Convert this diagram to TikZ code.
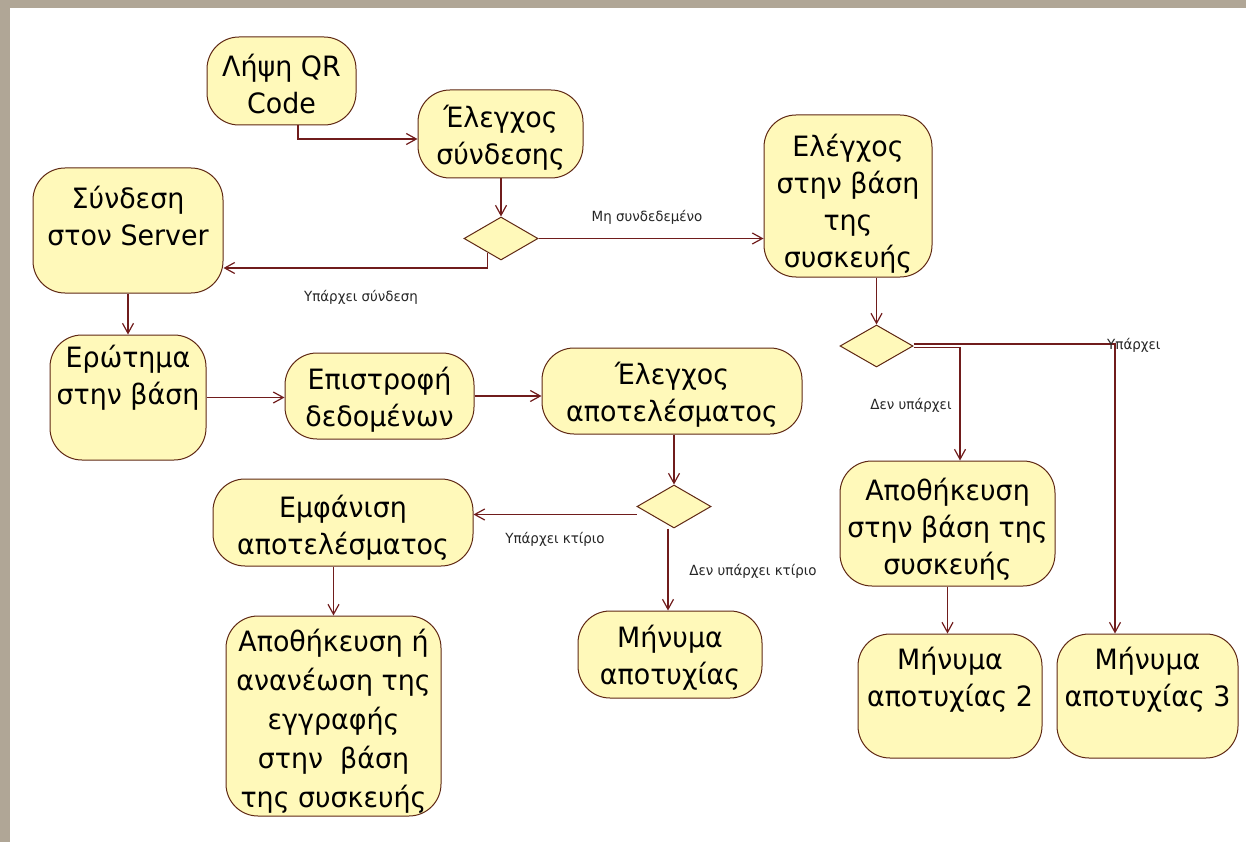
\documentclass[tikz,border=0pt]{standalone}
\usepackage{fontspec}
\setmainfont{DejaVu Sans}[FakeStretch=0.96]
\usetikzlibrary{arrows.meta,shapes.geometric,calc}
\definecolor{stone}{RGB}{176,166,150}
\definecolor{nodefill}{RGB}{255,249,186}
\definecolor{edgecol}{RGB}{112,28,28}
\definecolor{bordercol}{RGB}{95,40,20}
\tikzset{
  box/.style={draw=bordercol, fill=nodefill, rounded corners=32pt, line width=1pt, inner sep=0pt},
  dec/.style={diamond, aspect=1.7, draw=bordercol, fill=nodefill, line width=1pt, inner sep=0pt},
  txt/.style={inner sep=0pt, align=center, font=\fontsize{28pt}{37pt}\selectfont},
  lbl/.style={inner sep=0pt, font=\fontsize{14pt}{16pt}\selectfont, text=black!85},
  arr/.style={draw=edgecol, line width=1.2pt, -{Straight Barb[length=10pt,width=11pt]}}
}
\begin{document}
\begin{tikzpicture}[x=1pt,y=-1pt]
\useasboundingbox (0,0) rectangle (1246,842);
\fill[stone] (0,0) rectangle (1246,842);
\fill[white] (10,8) rectangle (1246,842);

% activity nodes
\node[box, minimum width=149pt, minimum height=88pt] (qr) at (281.5,81) {};
\node[txt] (tqr) at (281.5,84) {Λήψη QR\\Code};
\node[box, minimum width=165pt, minimum height=88pt] (conn) at (500.5,134) {};
\node[txt] (tconn) at (500.5,138) {Έλεγχος\\σύνδεσης};
\node[box, minimum width=168pt, minimum height=162pt] (dbchk) at (848,196) {};
\node[txt] (tdbchk) at (848,204) {Ελέγχος\\στην βάση\\της\\συσκευής};
\node[box, minimum width=190pt, minimum height=125pt] (server) at (128,230.5) {};
\node[txt] (tserver) at (128,216) {Σύνδεση\\στον Server};
\node[box, minimum width=156pt, minimum height=125pt] (query) at (128,397.5) {};
\node[txt] (tquery) at (128,378) {Ερώτημα\\στην βάση};
\node[box, minimum width=189pt, minimum height=86pt] (ret) at (379.5,396) {};
\node[txt] (tret) at (379.5,400) {Επιστροφή\\δεδομένων};
\node[box, minimum width=260pt, minimum height=86pt] (res) at (672,391) {};
\node[txt] (tres) at (672,395) {Έλεγχος\\αποτελέσματος};
\node[box, minimum width=260pt, minimum height=87pt] (show) at (343,522.5) {};
\node[txt] (tshow) at (343,528) {Εμφάνιση\\αποτελέσματος};
\node[box, minimum width=215pt, minimum height=200pt] (save1) at (333.5,716) {};
\node[txt, font=\fontsize{28pt}{39pt}\selectfont] (tsave1) at (333.5,721) {Αποθήκευση ή\\ανανέωση της\\εγγραφής\\στην\ \ βάση\\της συσκευής};
\node[box, minimum width=184pt, minimum height=87pt] (fail1) at (670,654.5) {};
\node[txt] (tfail1) at (670,658) {Μήνυμα\\αποτυχίας};
\node[box, minimum width=215pt, minimum height=125pt] (save2) at (947.5,523.5) {};
\node[txt] (tsave2) at (947.5,529.5) {Αποθήκευση\\στην βάση της\\συσκευής};
\node[box, minimum width=184pt, minimum height=124pt] (fail2) at (950,696) {};
\node[txt] (tfail2) at (950,680) {Μήνυμα\\αποτυχίας 2};
\node[box, minimum width=181pt, minimum height=124pt] (fail3) at (1147.5,696) {};
\node[txt] (tfail3) at (1147.5,680) {Μήνυμα\\αποτυχίας 3};

% decisions
\node[dec, minimum width=74pt, minimum height=43pt] (d1) at (501,238.5) {};
\node[dec, minimum width=74pt, minimum height=43pt] (d2) at (674,506.5) {};
\node[dec, minimum width=73pt, minimum height=42pt] (d3) at (876.5,346) {};

% connectors
\draw[arr] ([xshift=16.5pt]qr.south) |- ([yshift=-5pt]conn.west);
\draw[arr] (conn.south -| d1.north) -- (d1.north);
\draw[arr] (d1.east) -- (d1.east -| dbchk.west);
\coordinate (c1) at (488,268);
\draw[arr] ($(d1.south)!0.35!(d1.west)$) |- (server.east |- c1);
\draw[arr] (server.south) -- (server.south |- query.north);
\draw[arr] (query.east) -- (query.east -| ret.west);
\draw[arr] (ret.east) -- (ret.east -| res.west);
\draw[arr] (res.south -| d2.north) -- (d2.north);
\draw[arr] ([yshift=-8pt]d2.west) -- ([yshift=-8pt]d2.west -| show.east);
\draw[arr] ([xshift=-6pt]d2.south) -- ([xshift=-6pt]d2.south |- fail1.north);
\draw[arr] (save1.north |- show.south) -- (save1.north);
\draw[arr] (d3.north |- dbchk.south) -- (d3.north);
\draw[arr] ([yshift=-1.5pt]d3.east) -| ([xshift=12.5pt]save2.north);
\draw[arr] ([yshift=2pt]d3.east) -| ([xshift=-32.5pt]fail3.north);
\draw[arr] (save2.south) -- (save2.south |- fail2.north);

% labels
\node[lbl] (l1) at (647,217) {Μη συνδεδεμένο};
\node[lbl] (l2) at (361,297) {Υπάρχει σύνδεση};
\node[lbl] (l3) at (555,539) {Υπάρχει κτίριο};
\node[lbl] (l4) at (753,571) {Δεν υπάρχει κτίριο};
\node[lbl] (l5) at (911,405) {Δεν υπάρχει};
\node[lbl, anchor=west] (l6) at (1107,345) {Υπάρχει};
\end{tikzpicture}
\end{document}
